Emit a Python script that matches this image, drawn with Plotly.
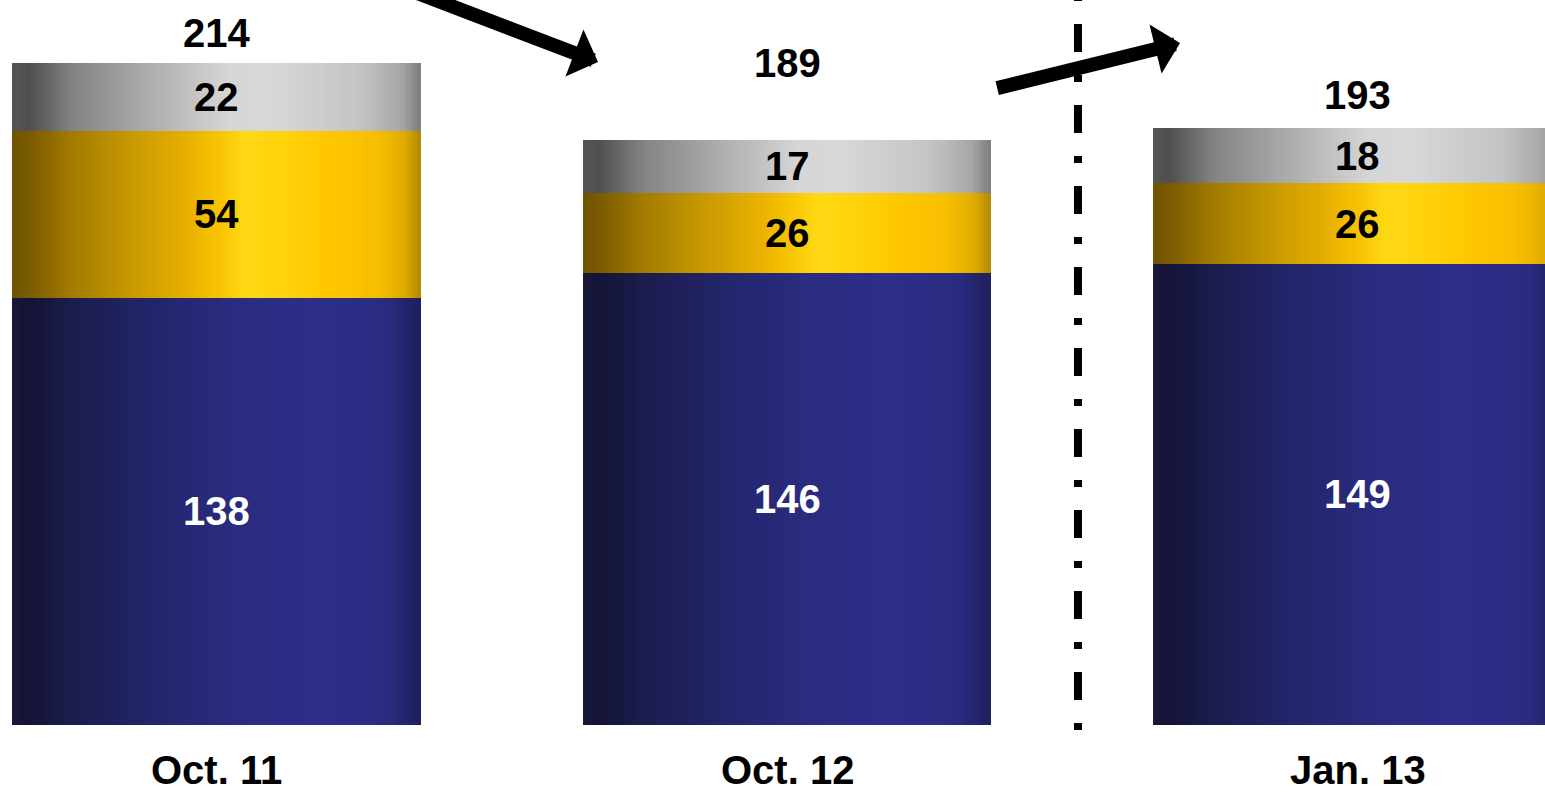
import plotly.graph_objects as go

# Stacked totals per reporting date
categories = ["Oct. 11", "Oct. 12", "Jan. 13"]
base_values = [138, 146, 149]      # navy segment
middle_values = [54, 26, 26]       # gold segment
top_values = [22, 17, 18]          # grey segment
totals = [214, 189, 193]

# ---- layout geometry (pixel canvas 1545 x 793) ----
W, H = 1545, 793
X0_PX, X_STEP_PX = 216.5, 570.5     # first bar centre, spacing between bars
Y0_PX, Y_SCALE = 725.0, 3.095       # baseline pixel row, pixels per unit
BAR_WIDTH = 0.716
N_STRIPS = 120


def px_to_x(px):
    return (px - X0_PX) / X_STEP_PX


def px_to_y(py):
    return (Y0_PX - py) / Y_SCALE


def hex_to_rgb(h):
    h = h.lstrip("#")
    return tuple(int(h[i:i + 2], 16) for i in (0, 2, 4))


def sample(stops, t):
    for (t0, c0), (t1, c1) in zip(stops[:-1], stops[1:]):
        if t0 <= t <= t1:
            f = 0 if t1 == t0 else (t - t0) / (t1 - t0)
            a, b = hex_to_rgb(c0), hex_to_rgb(c1)
            return "rgb(%d,%d,%d)" % tuple(round(a[k] + (b[k] - a[k]) * f) for k in range(3))
    return "rgb(%d,%d,%d)" % hex_to_rgb(stops[-1][1])


# Cylinder-style horizontal shading for each segment colour
navy_stops = [(0, "#16173a"), (0.04, "#131435"), (0.14, "#1b1c4c"), (0.35, "#23256c"),
              (0.55, "#2a2c80"), (0.75, "#2d2e88"), (0.92, "#2a2b80"), (1, "#1e1f5c")]
gold_stops = [(0, "#6f5300"), (0.04, "#7a5a00"), (0.15, "#a47c00"), (0.3, "#c99a00"),
              (0.42, "#e6ae00"), (0.5, "#f7c200"), (0.57, "#ffd814"), (0.66, "#ffd30c"),
              (0.76, "#ffc800"), (0.9, "#f6bd00"), (0.96, "#deaa00"), (1, "#b08800")]
grey_stops = [(0, "#555555"), (0.04, "#4f4f4f"), (0.15, "#848484"), (0.35, "#b0b0b0"),
              (0.53, "#d6d6d6"), (0.64, "#d7d7d7"), (0.85, "#c4c4c4"), (0.95, "#a8a8a8"),
              (1, "#7c7c7c")]

centers = list(range(len(categories)))
step = BAR_WIDTH / N_STRIPS

fig = go.Figure()


def add_series(values, stops, name):
    xs, ys, ws, cs = [], [], [], []
    for c, v in zip(centers, values):
        left = c - BAR_WIDTH / 2
        for i in range(N_STRIPS):
            xs.append(left + i * step)
            ys.append(v)
            ws.append(step * (1.8 if i < N_STRIPS - 1 else 1.0))
            cs.append(sample(stops, (i + 0.5) / N_STRIPS))
    fig.add_trace(go.Bar(
        x=xs, y=ys, width=ws, offset=0, name=name,
        marker=dict(color=cs, line=dict(width=0)),
        hoverinfo="skip", showlegend=False,
    ))


add_series(base_values, navy_stops, "base")
add_series(middle_values, gold_stops, "middle")
add_series(top_values, grey_stops, "top")

FONT = "Liberation Sans, Arial"

# Segment value labels, centred in each segment
for c, b, m, t in zip(centers, base_values, middle_values, top_values):
    for lo, v, col in ((0, b, "white"), (b, m, "black"), (b + m, t, "black")):
        fig.add_annotation(x=c, y=lo + v / 2, text=str(v), showarrow=False,
                           yanchor="middle",
                           font=dict(family=FONT, size=40, weight="bold", color=col))

font_big = dict(family=FONT, size=40, weight="bold", color="black")

# Totals above each bar
total_lift = [29.7, 77, 32.7]
for c, tot, lift in zip(centers, totals, total_lift):
    fig.add_annotation(x=c, y=tot, text=str(tot), showarrow=False, yanchor="middle",
                       yshift=lift, font=font_big)

# Category labels under the bars
for c, name in zip(centers, categories):
    fig.add_annotation(x=c, y=0, text=name, showarrow=False, yanchor="middle",
                       yshift=-45, borderpad=0, font=font_big)

# Trend arrows between bars
arrows = [((598, 62), (412, -9)), ((1180, 43), (995.7, 88.5))]
for (hx, hy), (tx, ty) in arrows:
    fig.add_annotation(x=px_to_x(hx), y=px_to_y(hy), ax=px_to_x(tx), ay=px_to_y(ty),
                       xref="x", yref="y", axref="x", ayref="y", text="",
                       showarrow=True, arrowhead=1, arrowsize=0.6, arrowwidth=14,
                       arrowcolor="black", standoff=0)

# Dash-dot divider before the latest period
fig.add_shape(type="line", xref="x", yref="y",
              x0=px_to_x(1078), x1=px_to_x(1078), y0=px_to_y(-57), y1=px_to_y(751),
              line=dict(color="black", width=8, dash="28px,23px,7px,23px"))

fig.update_layout(
    width=W, height=H,
    margin=dict(l=0, r=0, t=0, b=0),
    paper_bgcolor="white", plot_bgcolor="white",
    barmode="stack", bargap=0,
    xaxis=dict(range=[px_to_x(0), px_to_x(W)], visible=False, fixedrange=True),
    yaxis=dict(range=[px_to_y(H), px_to_y(0)], visible=False, fixedrange=True),
    showlegend=False,
)

fig.write_html("out.html", config={"displayModeBar": False})
